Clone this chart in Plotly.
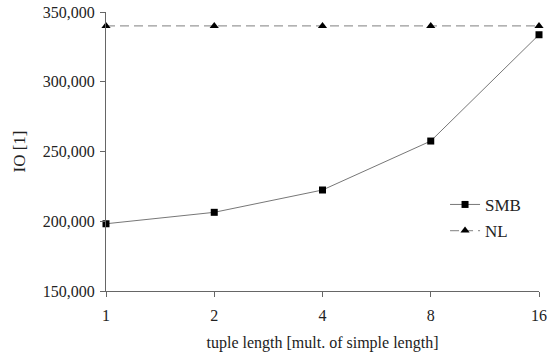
import plotly.graph_objects as go

categories = ["1", "2", "4", "8", "16"]
smb_values = [198200, 206400, 222400, 257500, 333700]
nl_values = [340000, 340000, 340000, 340000, 340000]
y_ticks = [150000, 200000, 250000, 300000, 350000]

xpos = list(range(len(categories)))
FAM = "Liberation Serif, Times New Roman, serif"
font = dict(family=FAM, size=16, color="#222")

fig = go.Figure()
fig.add_trace(go.Scatter(
    x=xpos, y=smb_values, name="SMB", mode="lines+markers", legendgroup="a",
    line=dict(color="#777", width=1),
    marker=dict(symbol="square", size=7, color="black"),
    cliponaxis=False,
))
fig.add_trace(go.Scatter(
    x=xpos, y=nl_values, name="NL", mode="lines+markers", legendgroup="b",
    line=dict(color="#999", width=1.3, dash="9px,5px"),
    marker=dict(symbol="triangle-up", size=8, color="black"),
    cliponaxis=False,
))

fig.update_layout(
    width=549, height=360,
    margin=dict(l=106, r=10, t=12, b=69),
    paper_bgcolor="white", plot_bgcolor="white",
    font=font,
    showlegend=True,
    legend=dict(x=0.783, y=0.262, xanchor="left", yanchor="middle",
                bgcolor="rgba(0,0,0,0)", font=dict(family=FAM, size=17, color="#222"),
                itemwidth=30, tracegroupgap=1),
    xaxis=dict(
        range=[0, 4], tickvals=xpos, ticktext=categories,
        showline=True, linecolor="#666", linewidth=1,
        ticks="outside", ticklen=5, tickcolor="#666",
        showgrid=False, zeroline=False, automargin=False,
        tickfont=dict(family=FAM, size=16, color="#222"), ticklabelstandoff=5,
        title=dict(text="tuple length [mult. of simple length]", standoff=13,
                   font=dict(family=FAM, size=16, color="#222")),
    ),
    yaxis=dict(
        range=[150000, 350000], tickvals=y_ticks,
        ticktext=[f"{v:,}" for v in y_ticks],
        showline=True, linecolor="#666", linewidth=1,
        ticks="outside", ticklen=5, tickcolor="#666",
        showgrid=False, zeroline=False, automargin=False,
        tickfont=dict(family=FAM, size=16, color="#222"), ticklabelstandoff=2,
        title=dict(text="IO [1]", standoff=12, font=dict(family=FAM, size=17, color="#222")),
    ),
)

fig.write_html("out.html", config={"displayModeBar": False},
               post_script="document.body.style.margin='0';document.body.style.overflow='hidden';")
